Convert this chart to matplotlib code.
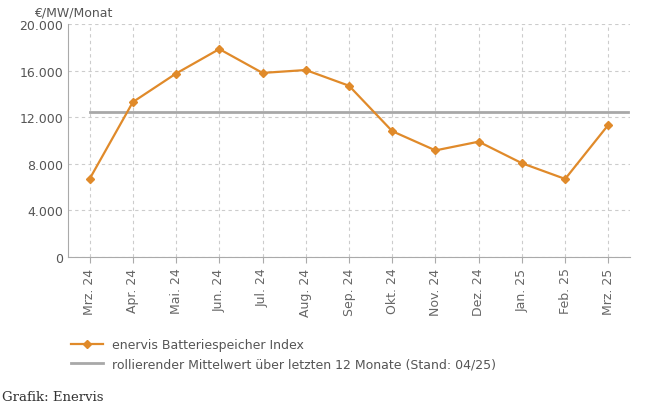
import matplotlib
matplotlib.use("Agg")
import matplotlib.pyplot as plt
from matplotlib.ticker import FuncFormatter

months = ["Mrz. 24","Apr. 24","Mai. 24","Jun. 24","Jul. 24","Aug. 24","Sep. 24",
          "Okt. 24","Nov. 24","Dez. 24","Jan. 25","Feb. 25","Mrz. 25"]
index_vals = [6700, 13300, 15750, 17850, 15800, 16050, 14700, 10800, 9150, 9900, 8050, 6700, 11350]
mean_val = 12450

W, H = 662, 414
fig = plt.figure(figsize=(W/100, H/100), dpi=100)
ax = fig.add_axes([68/W, 1-258/H, (630-68)/W, (258-25)/H])
x = list(range(len(months)))
orange = "#e08a2a"
ax.plot(x, index_vals, color=orange, marker="D", markersize=4, lw=1.6,
        label="enervis Batteriespeicher Index", zorder=3)
ax.plot([0, len(months)-0.55], [mean_val]*2, color="#a8a8a8", lw=2,
        label="rollierender Mittelwert über letzten 12 Monate (Stand: 04/25)")
ax.set_xlim(-0.5, len(months)-0.5)
ax.set_ylim(0, 20000)
ax.set_yticks(range(0, 20001, 4000))
ax.yaxis.set_major_formatter(FuncFormatter(lambda v, p: f"{int(v):,}".replace(",", ".")))
ax.set_xticks(x)
ax.set_xticklabels(months, rotation=90, fontsize=9, color="#666666")
ax.tick_params(axis="y", labelsize=9, colors="#555555", length=0)
ax.tick_params(axis="x", length=4, color="#aaaaaa")
ax.grid(True, ls=(0, (3, 3)), color="#cccccc", lw=0.8)
for s in ["top", "right"]:
    ax.spines[s].set_visible(False)
ax.spines["left"].set_color("#aaaaaa")
ax.spines["bottom"].set_color("#aaaaaa")
fig.text(34/W, 1-13/H, "€/MW/Monat", fontsize=9, color="#555555", va="center")
ax.legend(loc="upper left", bbox_to_anchor=(60/W, 1-328/H), bbox_transform=fig.transFigure,
          frameon=False, fontsize=9, labelcolor="#555555", handlelength=2.5)
fig.text(2/W, 1-398/H, "Grafik: Enervis", fontsize=9.5, family="DejaVu Serif", color="#333333", va="center")
fig.savefig("out.png", dpi=100)
